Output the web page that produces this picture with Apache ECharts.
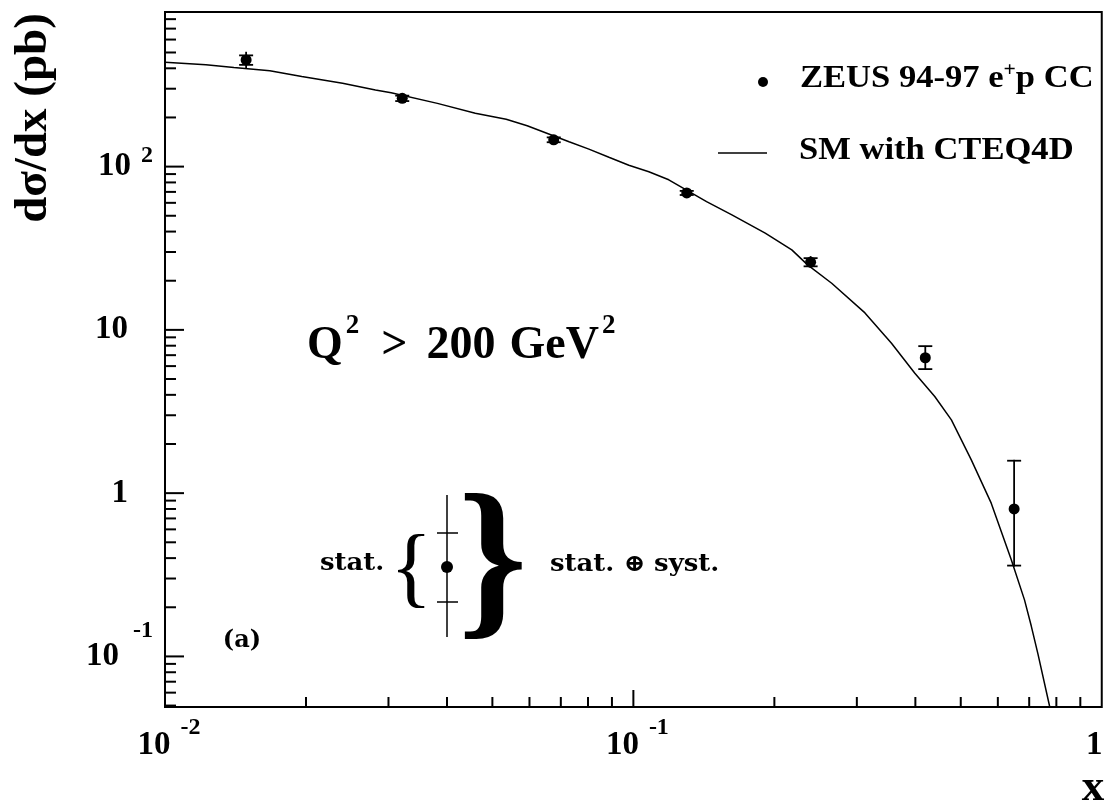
<!DOCTYPE html>
<html><head><meta charset="utf-8">
<script src="https://cdn.jsdelivr.net/npm/echarts@6/dist/echarts.min.js"></script>
<style>html,body{margin:0;padding:0;background:#fff}#c{width:1113px;height:802px}</style>
</head><body><div id="c"></div>
<script>
// ZEUS 94-97 e+p CC measured points
const pointX    = [0.0149, 0.0321, 0.0676, 0.130, 0.239, 0.42, 0.65];
const pointY    = [450, 262, 146, 69, 26, 6.75, 0.80];
const statLow   = [420, 252, 141, 67, 24.5, 5.75, 0.36];
const statHigh  = [480, 272, 151, 71, 27.5, 7.95, 1.58];
const totalLow  = [400, 248, 139, 66, 24, 5.69, 0.355];
const totalHigh = [505, 276, 153, 72, 28.3, 7.98, 1.6];
// SM with CTEQ4D curve
const smX = [0.01, 0.01223, 0.01403, 0.01674, 0.01959, 0.02394, 0.02814, 0.0304, 0.03816, 0.04597, 0.05351, 0.05933, 0.07289, 0.08036, 0.08867, 0.0978, 0.1079, 0.119, 0.1433, 0.1623, 0.1912, 0.2179, 0.2355, 0.2651, 0.3122, 0.3557, 0.399, 0.44, 0.4775, 0.5266, 0.5808, 0.641, 0.684, 0.707, 0.7305, 0.7745];
const smY = [436, 420, 404, 387, 356, 324, 295, 283, 244, 212, 195, 178, 142, 128, 114, 102, 93, 83, 61, 50.6, 39.1, 30.9, 25.0, 19.3, 12.7, 8.29, 5.43, 3.91, 2.81, 1.60, 0.868, 0.391, 0.222, 0.154, 0.104, 0.049];
// axis ticks
const xRange = [0.01, 1];
const yRange = [0.049, 885];
const xMajorTicks = [0.1];
const xMinorTicks = [0.02,0.03,0.04,0.05,0.06,0.07,0.08,0.09,0.2,0.3,0.4,0.5,0.6,0.7,0.8,0.9];
const yMajorTicks = [0.1, 1, 10, 100];
const yMinorTicks = [0.05,0.06,0.07,0.08,0.09,0.2,0.3,0.4,0.5,0.6,0.7,0.8,0.9,2,3,4,5,6,7,8,9,20,30,40,50,60,70,80,90,200,300,400,500,600,700,800];
// texts
const yTitle = 'dσ/dx (pb)';
const xTitle = 'x';
const legendData = 'ZEUS 94-97 e{s|+}p CC';
const legendTheory = 'SM with CTEQ4D';
const cutLabel = '{q|Q}{s|2}{g|>}{n|200}{G|GeV}{t|2}';
const panelLabel = '(a)';

const SERIF = '"Liberation Serif", "Times New Roman", serif';
const DSERIF = '"DejaVu Serif", serif';

function expOf(v) {
  const l = Math.log10(v);
  const e = Math.round(l);
  return Math.abs(l - e) < 1e-6 ? e : null;
}

const chart = echarts.init(document.getElementById('c'), null, {renderer: 'canvas'});

const pointData = pointX.map((x, i) => [x, pointY[i], statLow[i], statHigh[i], totalLow[i], totalHigh[i]]);
const curveData = smX.map((x, i) => [x, smY[i]]);
const xTickData = xMinorTicks.map(v => [v, 1, 0]).concat(xMajorTicks.map(v => [v, 1, 1]));
const yTickData = yMinorTicks.map(v => [0.1, v, 0]).concat(yMajorTicks.map(v => [0.1, v, 1]));

const B = {fontWeight: 'bold', fontFamily: SERIF, color: '#000'};
const option = {
  animation: false,
  backgroundColor: '#fff',
  grid: {left: 165, right: 9, top: 12, bottom: 95, show: true, borderColor: '#000', borderWidth: 2, backgroundColor: 'transparent'},
  xAxis: {
    type: 'log', logBase: 10, min: xRange[0], max: xRange[1],
    axisLine: {show: false}, axisTick: {show: false}, splitLine: {show: false}, minorTick: {show: false},
    axisLabel: {
      margin: 16,
      formatter: v => {
        const e = expOf(v);
        if (e === null) return '';
        if (e === 0) return '{b|1}{rp|}';
        return '{lp|}{b|10}{s|' + e + '}';
      },
      rich: {
        b: Object.assign({fontSize: 33, lineHeight: 44}, B),
        s: Object.assign({fontSize: 24, height: 10, lineHeight: 10, verticalAlign: 'top', padding: [0, 0, 0, 10]}, B),
        lp: {width: 8},
        rp: {width: 15}
      }
    }
  },
  yAxis: {
    type: 'log', logBase: 10, min: yRange[0], max: yRange[1],
    axisLine: {show: false}, axisTick: {show: false}, splitLine: {show: false}, minorTick: {show: false},
    axisLabel: {
      margin: 12,
      formatter: v => {
        const e = expOf(v);
        if (e === null) return '';
        if (e === 0) return '{b|1}{pad|}';
        if (e === 1) return '{b|10}{pad|}';
        if (e > 0) return '{b|10}{sp|' + e + '}';
        return '{b|10}{sn|' + e + '}';
      },
      rich: {
        b: Object.assign({fontSize: 33, lineHeight: 60}, B),
        sp: Object.assign({fontSize: 24, height: 38, lineHeight: 38, verticalAlign: 'top', padding: [0, 0, 0, 10]}, B),
        sn: Object.assign({fontSize: 24, height: 8, lineHeight: 8, verticalAlign: 'top', padding: [0, 0, 0, 14]}, B),
        pad: {width: 25}
      }
    }
  },
  series: [
    {
      type: 'line', name: 'SM with CTEQ4D', data: curveData, showSymbol: false, symbol: 'none', smooth: false,
      lineStyle: {color: '#000', width: 1.5}, silent: true, z: 3
    },
    {
      type: 'custom', name: 'errors', data: pointData, encode: {x: 0, y: 1}, silent: true, z: 4,
      renderItem: (params, api) => {
        const x = api.value(0);
        const c = api.coord([x, api.value(1)]);
        const sLo = api.coord([x, api.value(2)]);
        const sHi = api.coord([x, api.value(3)]);
        const tLo = api.coord([x, api.value(4)]);
        const tHi = api.coord([x, api.value(5)]);
        const w = 7;
        const st = {stroke: '#000', lineWidth: 1.8};
        return {type: 'group', children: [
          {type: 'line', shape: {x1: c[0], y1: tLo[1], x2: c[0], y2: tHi[1]}, style: st},
          {type: 'line', shape: {x1: c[0] - w, y1: sLo[1], x2: c[0] + w, y2: sLo[1]}, style: st},
          {type: 'line', shape: {x1: c[0] - w, y1: sHi[1], x2: c[0] + w, y2: sHi[1]}, style: st}
        ]};
      }
    },
    {
      type: 'scatter', name: 'ZEUS', data: pointData.map(d => [d[0], d[1]]), symbol: 'circle', symbolSize: 11,
      itemStyle: {color: '#000', opacity: 1}, silent: true, z: 5
    },
    {
      type: 'custom', name: 'xticks', data: xTickData, encode: {x: 0, y: 1}, silent: true, clip: false, z: 6,
      renderItem: (params, api) => {
        const p = api.coord([api.value(0), yRange[0]]);
        const len = api.value(2) ? 17 : 10;
        return {type: 'line', shape: {x1: p[0], y1: p[1], x2: p[0], y2: p[1] - len}, style: {stroke: '#000', lineWidth: 2}};
      }
    },
    {
      type: 'custom', name: 'yticks', data: yTickData, encode: {x: 0, y: 1}, silent: true, clip: false, z: 6,
      renderItem: (params, api) => {
        const p = api.coord([xRange[0], api.value(1)]);
        const len = api.value(2) ? 19 : 11;
        return {type: 'line', shape: {x1: p[0], y1: p[1], x2: p[0] + len, y2: p[1]}, style: {stroke: '#000', lineWidth: 2}};
      }
    }
  ],
  graphic: [
    {type: 'text', x: 34, y: 118, rotation: Math.PI / 2, silent: true,
      style: {text: yTitle, fontSize: 47, fontWeight: 'bold', fontFamily: SERIF, fill: '#000', align: 'center', verticalAlign: 'middle'}},
    {type: 'text', x: 1093, y: 788, silent: true,
      style: {text: xTitle, fontSize: 45, fontWeight: 'bold', fontFamily: SERIF, fill: '#000', align: 'center', verticalAlign: 'middle'}},
    // legend
    {type: 'circle', shape: {cx: 763, cy: 82, r: 5}, style: {fill: '#000'}, silent: true},
    {type: 'text', x: 800, y: 79, scaleX: 1.08, silent: true,
      style: {text: legendData, fontSize: 32, lineHeight: 40, fontWeight: 'bold', fontFamily: SERIF, fill: '#000', align: 'left', verticalAlign: 'middle',
        rich: {s: {fontSize: 20, fontWeight: 'bold', fontFamily: SERIF, fill: '#000', height: 24, lineHeight: 24, verticalAlign: 'top'}}}},
    {type: 'line', shape: {x1: 718, y1: 153, x2: 767, y2: 153}, style: {stroke: '#000', lineWidth: 1.5}, silent: true},
    {type: 'text', x: 799, y: 151, scaleX: 1.08, silent: true,
      style: {text: legendTheory, fontSize: 32, fontWeight: 'bold', fontFamily: SERIF, fill: '#000', align: 'left', verticalAlign: 'middle'}},
    // Q2 label
    {type: 'text', x: 307, y: 346, silent: true,
      style: {text: cutLabel, fontSize: 46, lineHeight: 52, fontWeight: 'bold', fontFamily: SERIF, fill: '#000', align: 'left', verticalAlign: 'middle',
        rich: {
          q: {fontSize: 46, fontWeight: 'bold', fontFamily: SERIF, lineHeight: 52},
          s: {fontSize: 27, fontWeight: 'bold', fontFamily: SERIF, height: 12, lineHeight: 12, verticalAlign: 'top', padding: [0, 0, 0, 3]},
          g: {fontSize: 46, fontWeight: 'bold', fontFamily: SERIF, lineHeight: 52, padding: [0, 0, 0, 22]},
          n: {fontSize: 46, fontWeight: 'bold', fontFamily: SERIF, lineHeight: 52, padding: [0, 0, 0, 19]},
          G: {fontSize: 46, fontWeight: 'bold', fontFamily: SERIF, lineHeight: 52, padding: [0, 0, 0, 14]},
          t: {fontSize: 27, fontWeight: 'bold', fontFamily: SERIF, height: 12, lineHeight: 12, verticalAlign: 'top', padding: [0, 0, 0, 3]}
        }}},
    // stat / syst key
    {type: 'text', x: 320, y: 564, scaleX: 1.08, silent: true,
      style: {text: 'stat.', fontSize: 24, fontWeight: 'bold', fontFamily: DSERIF, fill: '#000', align: 'left', verticalAlign: 'middle'}},
    {type: 'text', x: 390, y: 573, silent: true,
      style: {text: '{', fontSize: 88, fontWeight: 'normal', fontFamily: SERIF, fill: '#000', align: 'left', verticalAlign: 'middle'}},
    {type: 'line', shape: {x1: 447, y1: 495, x2: 447, y2: 637}, style: {stroke: '#000', lineWidth: 1.5}, silent: true},
    {type: 'line', shape: {x1: 437, y1: 533, x2: 458, y2: 533}, style: {stroke: '#000', lineWidth: 1.5}, silent: true},
    {type: 'line', shape: {x1: 437, y1: 602, x2: 458, y2: 602}, style: {stroke: '#000', lineWidth: 1.5}, silent: true},
    {type: 'circle', shape: {cx: 447, cy: 567, r: 6}, style: {fill: '#000'}, silent: true},
    {type: 'text', x: 458, y: 570, silent: true,
      style: {text: '}', fontSize: 176, fontWeight: 'bold', fontFamily: SERIF, fill: '#000', align: 'left', verticalAlign: 'middle'}},
    {type: 'text', x: 550, y: 565, scaleX: 1.08, silent: true,
      style: {text: 'stat. ⊕ syst.', fontSize: 24, fontWeight: 'bold', fontFamily: DSERIF, fill: '#000', align: 'left', verticalAlign: 'middle'}},
    {type: 'text', x: 242, y: 641, silent: true,
      style: {text: panelLabel, fontSize: 24, fontWeight: 'bold', fontFamily: DSERIF, fill: '#000', align: 'center', verticalAlign: 'middle'}}
  ]
};
chart.setOption(option);
</script>
</body></html>
